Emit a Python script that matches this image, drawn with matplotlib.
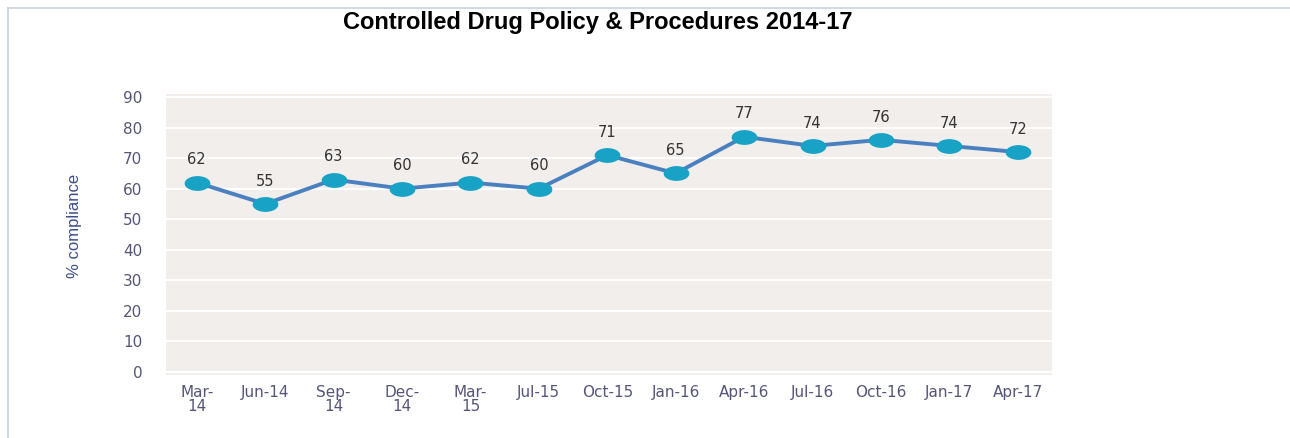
import matplotlib
matplotlib.use("Agg")
import matplotlib.pyplot as plt
from matplotlib.path import Path
from matplotlib.lines import Line2D
import numpy as np

quarters = ["Mar-\n14", "Jun-14", "Sep-\n14", "Dec-\n14", "Mar-\n15", "Jul-15", "Oct-15",
            "Jan-16", "Apr-16", "Jul-16", "Oct-16", "Jan-17", "Apr-17"]
compliance = [62, 55, 63, 60, 62, 60, 71, 65, 77, 74, 76, 74, 72]
y_ticks = [0, 10, 20, 30, 40, 50, 60, 70, 80, 90]

# flattened ellipse marker
t = np.linspace(0, 2 * np.pi, 60)
ellipse = Path(np.column_stack([np.cos(t), 0.55 * np.sin(t)]), closed=True)

fig = plt.figure(figsize=(12.9, 4.38), dpi=100)
plt.rcParams["font.family"] = ["DejaVu Sans"]

# thin page border along top and left
fig.add_artist(Line2D([8 / 1290, 1], [1 - 8 / 438, 1 - 8 / 438], color="#c9d1e2", lw=1.2))
fig.add_artist(Line2D([8 / 1290, 8 / 1290], [0, 1 - 8 / 438], color="#c9d1e2", lw=1.2))

ax = fig.add_axes([166 / 1290, 1 - 375 / 438, (1052 - 166) / 1290, (375 - 94) / 438])
ax.set_facecolor("#f2eeeb")
x = np.arange(len(quarters))
ax.plot(x, compliance, color="#4a80c0", lw=2.8, zorder=3)
ax.plot(x, compliance, ls="none", marker=ellipse, ms=17.5, color="#17a2c6", zorder=4)
for xi, v in zip(x, compliance):
    ax.text(xi, v + 5, str(v), ha="center", va="bottom", fontsize=10.5, color="#333333")

ax.set_xlim(-0.45, len(quarters) - 0.5)
ax.set_ylim(-1, 91)
ax.set_yticks(y_ticks)
ax.set_xticks(x)
ax.set_xticklabels(quarters, linespacing=0.95)
ax.yaxis.grid(True, color="white", lw=1.5)
ax.set_axisbelow(True)
for s in ax.spines.values():
    s.set_visible(False)
ax.tick_params(length=0, labelsize=11, labelcolor="#55557a")
ax.tick_params(axis="y", pad=17)
ax.tick_params(axis="x", pad=7)
ax.set_ylabel("% compliance", fontsize=12, color="#3c4f86",
              fontfamily=["Liberation Sans Narrow", "Liberation Sans"])
ax.yaxis.set_label_coords(-84 / 886, (375 - 226) / 281)

fig.text(598 / 1290, 1 - 11 / 438, "Controlled Drug Policy & Procedures 2014-17",
         ha="center", va="top", fontsize=17, fontweight="bold",
         fontfamily=["Liberation Sans", "DejaVu Sans"])

fig.savefig("out.png", dpi=100)
